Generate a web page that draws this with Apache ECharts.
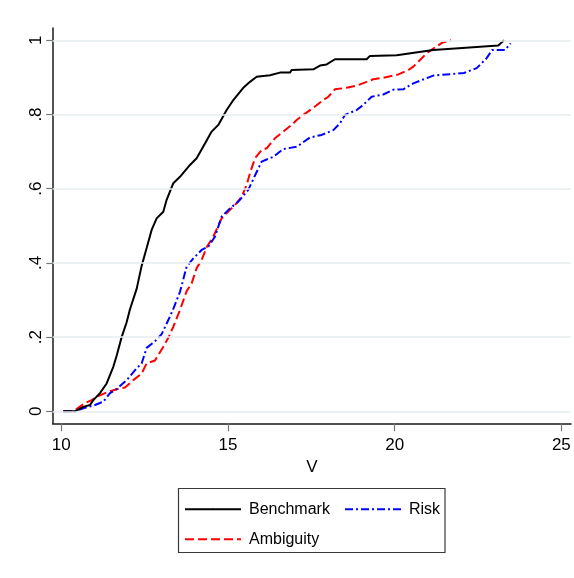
<!DOCTYPE html>
<html>
<head>
<meta charset="utf-8">
<script src="https://cdn.jsdelivr.net/npm/echarts@6/dist/echarts.min.js"></script>
<style>
html,body{margin:0;padding:0;background:#fff;}
#chart{width:574px;height:578px;}
</style>
</head>
<body>
<div id="chart"></div>
<script>
// ---- data ----
const xTicks = [10, 15, 20, 25];
const yTicks = [0, 0.2, 0.4, 0.6, 0.8, 1];
const yTickLabels = ['0', '.2', '.4', '.6', '.8', '1'];
const seriesNames = ['Benchmark', 'Ambiguity', 'Risk'];

const benchmarkV = [10.06, 10.41, 10.66, 10.86, 10.96, 11.16, 11.36, 11.56, 11.66, 11.81, 11.96, 12.06, 12.26, 12.41, 12.56, 12.71, 12.86, 13.06, 13.16, 13.36, 13.56, 13.86, 14.06, 14.31, 14.51, 14.71, 14.96, 15.16, 15.36, 15.46, 15.66, 15.86, 16.26, 16.56, 16.86, 16.91, 17.56, 17.76, 17.96, 18.21, 19.16, 19.26, 20.06, 21.16, 23.11, 23.28];
const benchmarkF = [0, 0, 0.012, 0.017, 0.030, 0.049, 0.075, 0.120, 0.150, 0.200, 0.240, 0.275, 0.330, 0.392, 0.440, 0.489, 0.520, 0.538, 0.570, 0.615, 0.632, 0.664, 0.682, 0.722, 0.754, 0.772, 0.812, 0.839, 0.861, 0.872, 0.888, 0.902, 0.906, 0.913, 0.913, 0.920, 0.922, 0.932, 0.935, 0.949, 0.949, 0.958, 0.960, 0.974, 0.986, 1.0];

const ambiguityV = [10.06, 10.36, 10.71, 10.91, 11.11, 11.41, 11.76, 11.91, 12.16, 12.41, 12.56, 12.81, 13.06, 13.21, 13.36, 13.56, 13.76, 13.91, 14.06, 14.21, 14.36, 14.56, 14.81, 15.06, 15.21, 15.41, 15.56, 15.66, 15.81, 16.01, 16.16, 16.41, 16.66, 16.91, 17.06, 17.26, 17.56, 17.86, 18.01, 18.21, 18.56, 18.86, 19.16, 19.36, 19.66, 20.11, 20.41, 20.56, 20.76, 20.96, 21.16, 21.42, 21.69];
const ambiguityF = [0, 0, 0.022, 0.030, 0.041, 0.053, 0.062, 0.064, 0.084, 0.102, 0.129, 0.137, 0.174, 0.198, 0.228, 0.273, 0.324, 0.345, 0.386, 0.408, 0.442, 0.471, 0.520, 0.543, 0.556, 0.578, 0.610, 0.642, 0.682, 0.704, 0.709, 0.736, 0.754, 0.772, 0.785, 0.799, 0.818, 0.839, 0.848, 0.868, 0.872, 0.878, 0.888, 0.895, 0.899, 0.908, 0.920, 0.929, 0.947, 0.965, 0.978, 0.993, 1.0];

const riskV = [10.06, 10.41, 10.66, 11.01, 11.26, 11.46, 11.66, 11.96, 12.26, 12.41, 12.56, 12.81, 13.01, 13.21, 13.36, 13.56, 13.76, 13.96, 14.21, 14.41, 14.61, 14.81, 15.06, 15.31, 15.61, 15.86, 16.01, 16.36, 16.66, 17.06, 17.46, 17.81, 18.16, 18.36, 18.51, 18.86, 19.06, 19.31, 19.66, 19.96, 20.26, 20.56, 21.16, 22.08, 22.46, 22.76, 22.92, 23.31, 23.48];
const riskF = [0, 0, 0.008, 0.017, 0.026, 0.049, 0.060, 0.084, 0.116, 0.129, 0.171, 0.189, 0.208, 0.246, 0.276, 0.322, 0.390, 0.412, 0.435, 0.444, 0.471, 0.525, 0.547, 0.565, 0.597, 0.645, 0.673, 0.686, 0.707, 0.713, 0.738, 0.745, 0.758, 0.776, 0.799, 0.812, 0.826, 0.848, 0.854, 0.867, 0.868, 0.884, 0.905, 0.912, 0.925, 0.952, 0.974, 0.974, 0.992];

// ---- chart ----
const FONT = "'Liberation Sans Narrow','Arial Narrow','Liberation Sans',Arial,sans-serif";
const pairs = (xs, ys) => xs.map((x, i) => [x, ys[i]]);
const legendText = {fontFamily: FONT, fontSize: 16, color: '#000', padding: [0, 0, 0, 3], lineHeight: 20};

const chart = echarts.init(document.getElementById('chart'), null, {renderer: 'canvas'});
chart.setOption({
  animation: false,
  backgroundColor: '#ffffff',
  textStyle: {fontFamily: FONT},
  grid: {left: 52.7, right: 3, top: 28, bottom: 154.7, containLabel: false},
  xAxis: {
    type: 'value',
    min: 9.742, max: 25.29,
    name: 'V', nameLocation: 'middle', nameGap: 33,
    nameTextStyle: {fontFamily: FONT, fontSize: 17, color: '#000'},
    axisLine: {show: true, onZero: false, lineStyle: {color: '#1a1a1a', width: 1.5}},
    axisTick: {show: true, length: 8, customValues: xTicks, lineStyle: {color: '#777', width: 1.2}},
    axisLabel: {customValues: xTicks, margin: 14, fontFamily: FONT, fontSize: 17, color: '#000'},
    splitLine: {show: false}
  },
  yAxis: {
    type: 'value',
    min: -0.0323, max: 1.0332,
    axisLine: {show: true, onZero: false, lineStyle: {color: '#1a1a1a', width: 1.5}},
    axisTick: {show: true, length: 6.5, customValues: yTicks, lineStyle: {color: '#777', width: 1.2}},
    axisLabel: {
      customValues: yTicks, rotate: 90, margin: 8, fontFamily: FONT, fontSize: 17, color: '#000',
      formatter: v => yTickLabels[yTicks.findIndex(t => Math.abs(t - v) < 1e-6)]
    },
    splitLine: {show: false}
  },
  graphic: [{
    type: 'rect', z: 0,
    shape: {x: 178.5, y: 488.5, width: 266.5, height: 64},
    style: {fill: '#fff', stroke: '#3a3a3a', lineWidth: 1.2}
  }],
  legend: [{
    data: [seriesNames[0], seriesNames[1]],
    orient: 'vertical', left: 184, top: 499.3, padding: 0,
    itemWidth: 56, itemHeight: 2, itemGap: 10,
    textStyle: legendText,
    selectedMode: false
  }, {
    data: [seriesNames[2]],
    orient: 'vertical', left: 344, top: 499.3, padding: 0,
    itemWidth: 56, itemHeight: 2, itemGap: 10,
    textStyle: legendText,
    selectedMode: false
  }],
  series: [{
    name: 'grid', type: 'line', data: [], z: 1, silent: true,
    markLine: {
      silent: true, symbol: 'none', animation: false,
      label: {show: false},
      lineStyle: {color: '#e6eef1', width: 1.5, type: 'solid'},
      data: yTicks.map(v => ({yAxis: v}))
    }
  }, {
    name: seriesNames[0], type: 'line', symbol: 'none', z: 3,
    data: pairs(benchmarkV, benchmarkF),
    lineStyle: {color: '#000000', width: 2},
    itemStyle: {color: '#000000'}
  }, {
    name: seriesNames[1], type: 'line', symbol: 'none', z: 2,
    data: pairs(ambiguityV, ambiguityF),
    lineStyle: {color: '#ff0000', width: 2, type: [9, 4]},
    itemStyle: {color: '#ff0000'}
  }, {
    name: seriesNames[2], type: 'line', symbol: 'none', z: 2,
    data: pairs(riskV, riskF),
    lineStyle: {color: '#0000ff', width: 2, type: [8, 3, 2, 3]},
    itemStyle: {color: '#0000ff'}
  }]
});
</script>
</body>
</html>
